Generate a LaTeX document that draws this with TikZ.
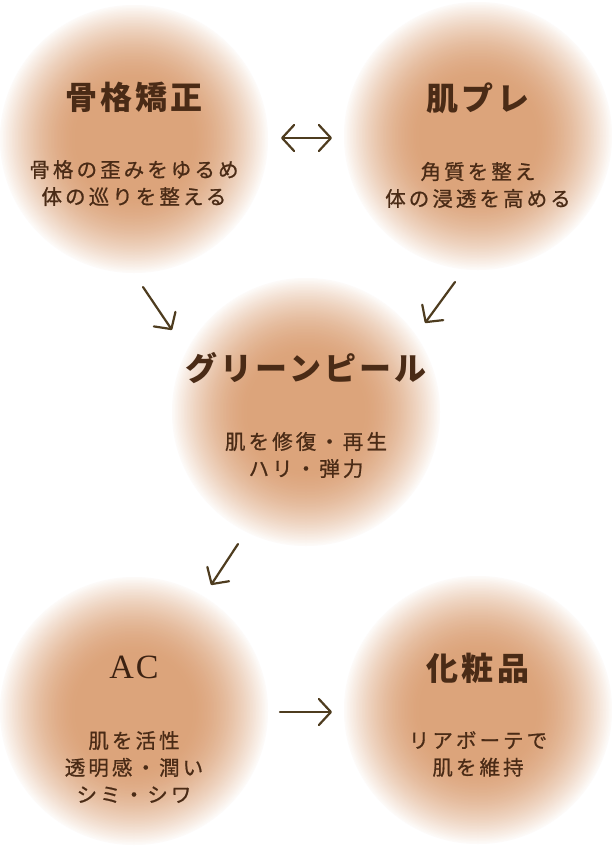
\documentclass[tikz,border=0pt]{standalone}
\usepackage{fontspec}
\usetikzlibrary{arrows.meta}
\newfontfamily\jpbody[LetterSpace=15,FakeBold=0.8]{Noto Sans CJK JP}
\newfontfamily\jptitle[LetterSpace=10]{Noto Sans CJK JP}
\newfontfamily\latserif{Liberation Serif}
\definecolor{cA}{HTML}{DCA47B}
\definecolor{txt}{HTML}{4A2B16}
\definecolor{acc}{HTML}{3C2212}
\definecolor{arr}{HTML}{4E3C1F}
\begin{document}
\begin{tikzpicture}[x=1pt,y=-1pt,
  blobnode/.style={circle, minimum size=268pt, inner sep=0pt, draw=none},
  titletext/.style={text=txt, font=\jptitle\bfseries\fontsize{32}{36}\selectfont, inner sep=0pt},
  bodytext/.style={text=txt, font=\jpbody\fontsize{20.5}{27}\selectfont, align=center, inner sep=0pt},
  flow/.style={draw=arr, line width=2.2pt, line cap=round, -{Straight Barb[length=12pt,width=26pt,round]}},
  flowboth/.style={draw=arr, line width=2.2pt, line cap=round, {Straight Barb[length=12pt,width=26pt,round]}-{Straight Barb[length=12pt,width=26pt,round]}}]
\useasboundingbox (0,0) rectangle (612,846);
\fill[white] (0,0) rectangle (612,846);

\node[blobnode] (c1) at (134,139) {};
\node[blobnode] (c2) at (478,136) {};
\node[blobnode] (c3) at (306,412) {};
\node[blobnode] (c4) at (134,711) {};
\node[blobnode] (c5) at (478,710) {};

\foreach \i in {0,...,89}{
  \pgfmathsetmacro{\rr}{134-1.5*\i}
  \pgfmathsetmacro{\uu}{max(0,(\rr/134-0.42)/0.58)}
  \pgfmathsetmacro{\pp}{5+95*(1-\uu^1.7)}
  \foreach \c in {c1,c2,c3,c4,c5}{
    \fill[cA!\pp!white] (\c.center) circle[radius=\rr];
  }
}

\node[titletext] (t1) at (134,97) {骨格矯正};
\node[bodytext] (b1) at (134,183) {骨格の歪みをゆるめ\\体の巡りを整える};

\node[titletext] (t2) at (478,98) {肌プレ};
\node[bodytext] (b2) at (478,185) {角質を整え\\体の浸透を高める};

\node[titletext] (t3) at (306,368) {グリーンピール};
\node[bodytext] (b3) at (306,455) {肌を修復・再生\\ハリ・弾力};

\node[text=acc, font=\latserif\fontsize{34}{36}\selectfont, inner sep=0pt] (t4) at (134,667) {A\kern2pt C};
\node[bodytext] (b4) at (134,767) {肌を活性\\透明感・潤い\\シミ・シワ};

\node[titletext] (t5) at (478,668) {化粧品};
\node[bodytext] (b5) at (478,754) {リアボーテで\\肌を維持};

\coordinate (d1) at (281,138);
\coordinate (d2) at (332,138);
\coordinate (e1) at (143,287);
\coordinate (e2) at (172,330);
\coordinate (f1) at (455,282);
\coordinate (f2) at (425,323);
\coordinate (g1) at (238,544);
\coordinate (g2) at (211,585);
\coordinate (h1) at (280,712);
\coordinate (h2) at (332,712);

\draw[flowboth] (d1) -- (d2);
\draw[flow] (e1) -- (e2);
\draw[flow] (f1) -- (f2);
\draw[flow] (g1) -- (g2);
\draw[flow] (h1) -- (h2);
\end{tikzpicture}
\end{document}
